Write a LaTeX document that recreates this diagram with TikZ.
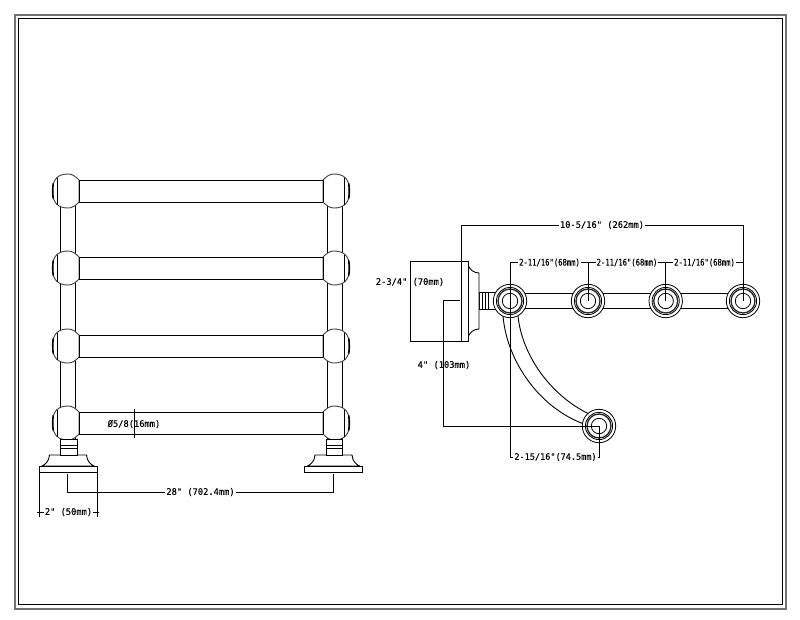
\documentclass[tikz,border=0pt]{standalone}
\usepackage{fontspec}
\setmainfont{DejaVu Sans Mono}
\newfontfamily\dimfont[FakeStretch=0.97,FakeBold=0.25]{DejaVu Sans Mono}
\newfontfamily\dimnarrow[FakeStretch=0.8,FakeBold=0.25]{DejaVu Sans Mono}
\tikzset{
 part/.style={draw=black,line width=0.9pt,fill=white},
 outl/.style={draw=black,line width=0.9pt},
 dim/.style={draw=black,line width=0.8pt},
 dimtext/.style={inner sep=0.8pt,font=\dimfont\fontsize{9}{10}\selectfont,text=black},
 dimtextn/.style={inner sep=0.8pt,font=\dimnarrow\fontsize{9}{10}\selectfont,text=black},
}
\newcommand{\ballshape}[3]{% x of post centre, y, mirror
 \begin{scope}[shift={(#1,#2)},xscale=#3]
  \path[part,draw=black!75] (11.5,-11) .. controls (8,-14.5) and (5,-17) .. (0.8,-17)
    .. controls (-9,-17) and (-15,-12.5) .. (-15,0)
    .. controls (-15,12.5) and (-9,17) .. (0.8,17)
    .. controls (5,17) and (8,14.5) .. (11.5,11) -- cycle;
  \draw[outl] (11.5,-11) -- (11.5,11);
  \draw[outl] (-10,-13.5) -- (-10,13.5);
  \draw[line width=1.6pt] (-14.2,-7.5) .. controls (-15,-3) and (-15,3) .. (-14.2,7.5);
 \end{scope}}
\newcommand{\baseshape}[3]{% post left, post right, flange centre
 \begin{scope}[shift={(#3,0)}]
  \path[part] (-18.5,455) -- (18.5,455) .. controls (19,461) and (22,464) .. (26,466) -- (-26,466) .. controls (-22,464) and (-19,461) .. (-18.5,455) -- cycle;
  \path[part] (-29,466) rectangle (29,472);
 \end{scope}
 \path[part] (#1,439) rectangle (#2,455);
 \draw[outl] (#1,445) -- (#2,445) (#1,448.5) -- (#2,448.5);}
\newcommand{\ringset}[1]{%
 \path[part,line width=0.8pt] (#1) circle[radius=16.7];
 \draw[outl,line width=0.8pt] (#1) circle[radius=13.6];
 \draw[line width=1.3pt,black!85] (#1) circle[radius=12];
 \draw[outl,line width=0.8pt] (#1) circle[radius=7.7];}
\begin{document}
\begin{tikzpicture}[x=1pt,y=-1pt]
\useasboundingbox (0,0) rectangle (800,619);
\fill[white] (0,0) rectangle (800,619);
% frame
\draw[black!55,line width=2pt] (15,15) rectangle (785.5,608.5);
\draw[black,line width=1pt] (18.5,18.5) rectangle (782.5,604);

% ---------- front view
\path[part] (60.3,191) rectangle (75.3,440);
\path[part] (327,191) rectangle (342,440);
\foreach \yy in {191,268,346,423}{
 \path[part] (70,\yy-11) rectangle (330,\yy+11);
}
\foreach \yy in {191,268,346,423}{
 \ballshape{67.5}{\yy}{1}
 \ballshape{334.5}{\yy}{-1}
}
\baseshape{60}{77}{68}
\baseshape{326}{342}{333.5}

% front view dimensions
\coordinate (xa) at (39,473);
\coordinate (xb) at (39,517);
\coordinate (xc) at (97,473);
\coordinate (xd) at (97,517);
\draw[dim] (xa) -- (xb);
\draw[dim] (xc) -- (xd);
\node[dimtext] (twoin) at (68.5,512) {2" (50mm)};
\coordinate (ta) at (37,512);
\coordinate (tb) at (99,512);
\draw[dim] (ta) -- (twoin.west);
\draw[dim] (twoin.east) -- (tb);
\coordinate (wa) at (67,474);
\coordinate (wb) at (67,492);
\coordinate (wc) at (333,474);
\coordinate (wd) at (333,492);
\node[dimtext] (wide) at (200.5,492) {28" (702.4mm)};
\draw[dim] (wa) -- (wb) -- (wide.west);
\draw[dim] (wc) -- (wd) -- (wide.east);
\node[dimtext] (dia) at (134,424) {Ø5/8(16mm)};
\coordinate (da) at (134,409);
\coordinate (db) at (134,438);
\draw[dim] (da) -- (db);

% ---------- plan view
\coordinate (r1) at (510,301);
\coordinate (r2) at (588,301);
\coordinate (r3) at (665.7,301);
\coordinate (r4) at (743,301);
\coordinate (r5) at (599,426);
% arm
\draw[outl] (503,316) .. controls (507,362) and (540,408) .. (584,424);
\draw[outl] (518,316) .. controls (522,355) and (550,395) .. (589,414);
% rail
\path[part] (510,293.7) rectangle (743,308);
% neck
\path[part] (479,292.5) rectangle (497,309);
\draw[outl] (482,292.5) -- (482,309) (485,292.5) -- (485,309) (488.5,292.5) -- (488.5,309);
% flange
\path[part] (468,265) .. controls (470,270) and (474,273) .. (479,273) -- (479,329) .. controls (474,329) and (470,332) .. (468,337) -- cycle;
\path[part] (461.5,261) rectangle (468,341);
\ringset{r1}
\ringset{r2}
\ringset{r3}
\ringset{r4}
\ringset{r5}

% plan view dimensions
\node[dimtext] (total) at (602,225) {10-5/16" (262mm)};
\coordinate (ta1) at (461.5,261);
\coordinate (ta2) at (461.5,225);
\draw[dim] (ta1) -- (ta2) -- (total.west);
\draw[dim] (r4) -- (743,225) -- (total.east);
\node[dimtextn] (s1) at (549.5,262.7) {2-11/16"(68mm)};
\node[dimtextn] (s2) at (627,262.7) {2-11/16"(68mm)};
\node[dimtextn] (s3) at (704.5,262.7) {2-11/16"(68mm)};
\coordinate (c1) at (510,262.7);
\coordinate (c2) at (588,262.7);
\coordinate (c3) at (665.7,262.7);
\coordinate (c4) at (743,262.7);
\draw[dim] (c1) -- (s1.west);
\draw[dim] (s1.east) -- (c2);
\draw[dim] (c2) -- (s2.west);
\draw[dim] (s2.east) -- (c3);
\draw[dim] (c3) -- (s3.west);
\draw[dim] (s3.east) -- (c4);
\draw[dim] (c2) -- (r2);
\draw[dim] (c3) -- (r3);
\coordinate (lo) at (510,457);
\coordinate (lp) at (599,457);
\node[dimtextn,font=\dimfont\fontsize{8.8}{10}\selectfont] (off) at (555.5,457) {2-15/16"(74.5mm)};
\draw[dim] (c1) -- (lo) -- (off.west);
\draw[dim] (r5) -- (lp) -- (off.east);
\coordinate (h1) at (460,300);
\coordinate (h2) at (443,300);
\coordinate (h3) at (443,426);
\draw[dim] (h1) -- (h2) -- (h3) -- (r5);
\node[dimtext] at (444,365) (depth) {4" (103mm)};
\coordinate (v1) at (461.5,261);
\coordinate (v2) at (410,261);
\coordinate (v3) at (410,341);
\coordinate (v4) at (461.5,341);
\node[dimtext] (high) at (410,282) {2-3/4" (70mm)};
\draw[dim] (v1) -- (v2) -- (v3) -- (v4);
\end{tikzpicture}
\end{document}
